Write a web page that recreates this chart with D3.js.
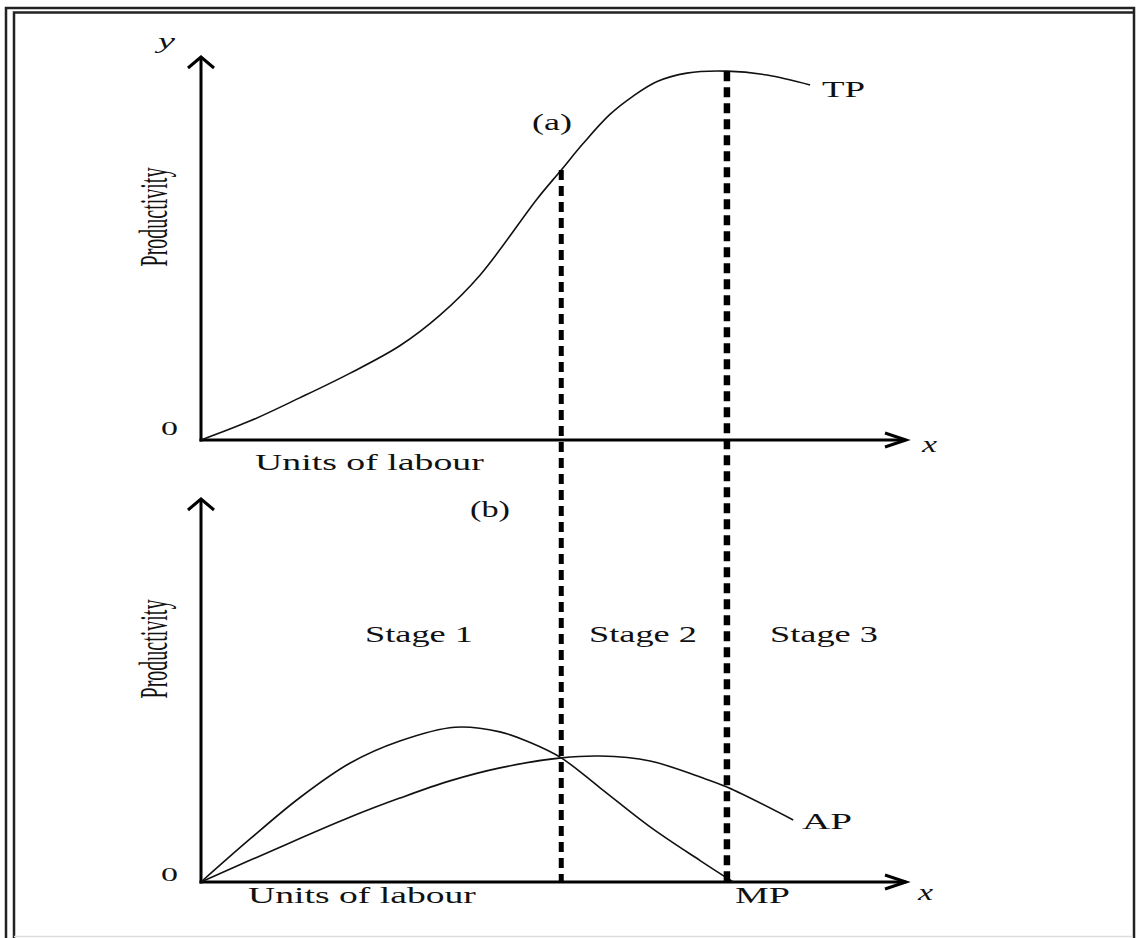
<!DOCTYPE html>
<html>
<head>
<meta charset="utf-8">
<script src="https://cdn.jsdelivr.net/npm/d3@7"></script>
<style>
  body { margin: 0; background: #fff; }
  svg { display: block; }
  text { font-family: "Liberation Serif", "Times New Roman", serif; fill: #111; }
</style>
</head>
<body>
<div id="chart"></div>
<script>
const width = 1137;
const height = 938;

// labour units on the x axis (0..10), productivity on each y axis (0..100)
const tpLabour = [0, 0.70, 1.40, 2.11, 2.82, 3.39, 3.96, 4.77, 5.11, 5.42, 5.80, 6.13, 6.47, 6.89, 7.46, 8.03, 8.64];
const tpValues = [0, 5.0, 11.0, 17.4, 24.6, 32.6, 43.1, 63.0, 70.5, 77.4, 85.0, 89.8, 93.6, 95.8, 96.3, 95.3, 92.7];

const mpLabour = [0, 0.70, 1.40, 2.11, 2.82, 3.60, 4.24, 4.67, 5.11, 5.66, 6.37, 7.08, 7.55];
const mpValues = [0, 11.3, 22.0, 31.0, 36.8, 40.4, 39.2, 36.4, 32.4, 24.6, 14.4, 5.6, 0];

const apLabour = [0, 1.12, 2.11, 2.82, 3.53, 4.24, 5.11, 5.66, 6.37, 7.08, 7.46, 8.40];
const apValues = [0, 9.1, 16.9, 21.9, 26.4, 29.8, 32.4, 32.9, 31.6, 27.4, 24.8, 16.2];

// boundaries between the three stages (labour units)
const stageBounds = [5.11, 7.46];
const stageNames = ["Stage 1", "Stage 2", "Stage 3"];

const svg = d3
  .select("#chart")
  .append("svg")
  .attr("width", width)
  .attr("height", height);

// double frame like the scanned page
const frame = svg.append("g").attr("fill", "none");
frame.append("path").attr("d", "M6,938 V8 H1134 V938").attr("stroke", "#222").attr("stroke-width", 2.5);
frame.append("path").attr("d", "M14,938 V12.5 H1134").attr("stroke", "#222").attr("stroke-width", 2.5);
frame.append("line").attr("x1", 14).attr("x2", 1133).attr("y1", 936.5).attr("y2", 936.5)
  .attr("stroke", "#ddd").attr("stroke-width", 1.5);

const x = d3.scaleLinear().domain([0, 10]).range([201, 906]);
const yTop = d3.scaleLinear().domain([0, 100]).range([440, 57]);
const yBot = d3.scaleLinear().domain([0, 100]).range([882, 499]);

function axes(y) {
  const g = svg.append("g").attr("stroke", "#000").attr("stroke-width", 3).attr("fill", "none");
  g.append("line").attr("x1", x(0)).attr("x2", x(0)).attr("y1", y(0) + 1.5).attr("y2", y(100));
  g.append("line").attr("x1", x(0) - 1.5).attr("x2", x(10)).attr("y1", y(0)).attr("y2", y(0));
  // open arrow heads
  g.append("path").attr("d", `M${x(0) - 13},${y(100) + 11} L${x(0)},${y(100)} L${x(0) + 13},${y(100) + 11}`);
  g.append("path").attr("d", `M${x(10) - 21},${y(0) - 7} L${x(10)},${y(0)} L${x(10) - 21},${y(0) + 7}`);
}
axes(yTop);
axes(yBot);

function curve(xs, ys, y) {
  const line = d3.line()
    .x((d, i) => x(xs[i]))
    .y((d) => y(d))
    .curve(d3.curveCatmullRom.alpha(0.5));
  svg.append("path")
    .attr("d", line(ys))
    .attr("fill", "none")
    .attr("stroke", "#111")
    .attr("stroke-width", 1.6);
}
curve(tpLabour, tpValues, yTop);
curve(mpLabour, mpValues, yBot);
curve(apLabour, apValues, yBot);

// dashed stage boundaries, from TP down to the lower axis
stageBounds.forEach((b, i) => {
  const top = tpValues[tpLabour.indexOf(b)];
  svg.append("line")
    .attr("x1", x(b)).attr("x2", x(b))
    .attr("y1", yTop(top)).attr("y2", yBot(0))
    .attr("stroke", "#000")
    .attr("stroke-width", i === 0 ? 5 : 6.5)
    .attr("stroke-dasharray", "10,6");
});

// serif text stretched sideways to the width it has in the scan
function label(txt, px, py, w, size, italic) {
  const t = svg.append("text")
    .attr("font-size", size)
    .attr("font-style", italic ? "italic" : null)
    .text(txt);
  const sx = w / t.node().getComputedTextLength();
  t.attr("transform", `translate(${px},${py}) scale(${sx},1)`);
}

label("y", 158, 48, 17, 20, true);
label("x", 922, 452, 15, 23, true);
label("x", 918, 900, 15, 23, true);
label("0", 161, 435, 17, 19);
label("0", 161, 881, 17, 19);
label("Units of labour", 255, 470, 229, 23);
label("Units of labour", 248, 903, 228, 23);
label("(a)", 532, 130, 40, 23);
label("(b)", 470, 517, 40, 23);
label("TP", 822, 97, 43, 23);
label("AP", 802, 829, 50, 23);
label("MP", 735, 903, 55, 23);

const stageStart = [365, 589, 770];
stageNames.forEach((s, i) => label(s, stageStart[i], 642, 108, 24));

[217, 649].forEach((cy) => {
  svg.append("text")
    .attr("transform", `translate(167,${cy}) rotate(-90) scale(1,2)`)
    .attr("text-anchor", "middle")
    .attr("font-size", 20)
    .text("Productivity");
});
</script>
</body>
</html>
